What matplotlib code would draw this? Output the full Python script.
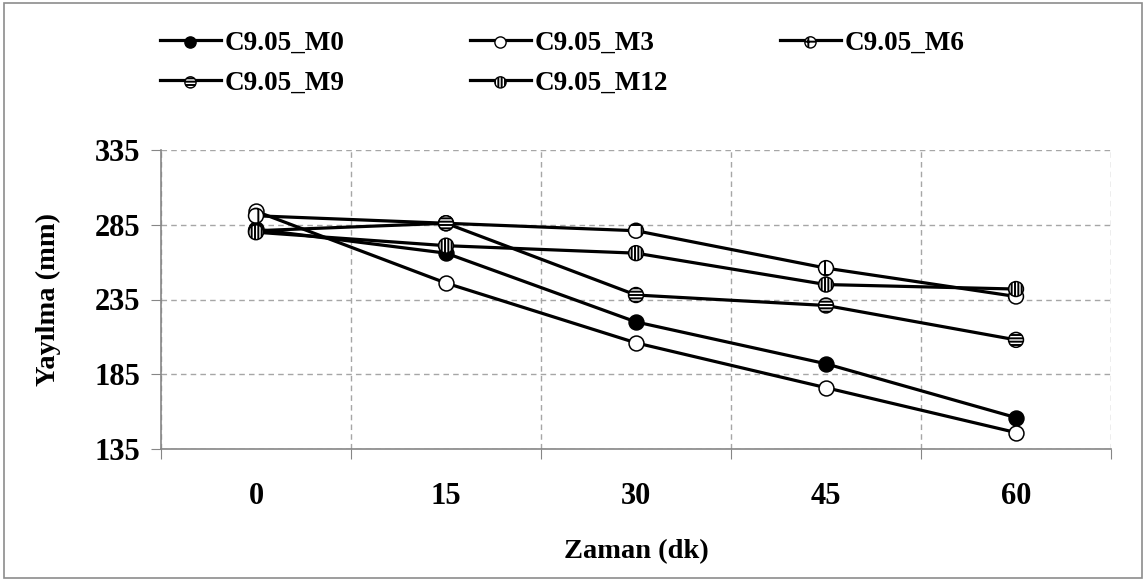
import matplotlib
matplotlib.use("Agg")
import matplotlib.pyplot as plt
from matplotlib.lines import Line2D
from matplotlib.legend_handler import HandlerTuple
from matplotlib.patches import Rectangle

# Spreading (mm) measured over time (min)
times = ["0", "15", "30", "45", "60"]
series_names = ["C9.05_M0", "C9.05_M3", "C9.05_M6", "C9.05_M9", "C9.05_M12"]
m0 = [282, 266, 220, 192, 156]
m3 = [294, 246, 206, 176, 146]
m6 = [291, 286, 281, 256, 237]
m9 = [281, 286, 238, 231, 208]
m12 = [280, 271, 266, 245, 242]
y_ticks = [135, 185, 235, 285, 335]

plt.rcParams["font.family"] = ["Liberation Serif", "DejaVu Serif"]
plt.rcParams["font.weight"] = "bold"
plt.rcParams["hatch.color"] = "#5a5a5a"
plt.rcParams["hatch.linewidth"] = 1.4

W, H = 1146, 580
fig = plt.figure(figsize=(W / 100, H / 100), dpi=100)
ax = fig.add_axes([161 / W, 1 - 449 / H, 950 / W, 299 / H])

styles = [
    dict(face="black", hatch=None),
    dict(face="white", hatch=None),
    dict(face="white", hatch="+"),
    dict(face="white", hatch="-----"),
    dict(face="white", hatch="|||||"),
]
data = [m0, m3, m6, m9, m12]
xs = list(range(len(times)))

handles = []
for i, (vals, st) in enumerate(zip(data, styles)):
    z = 3 + i
    ax.plot(xs, vals, color="black", lw=2.3, zorder=z, solid_capstyle="butt")
    ax.scatter(xs, vals, s=115, facecolor=st["face"], edgecolor="black",
               linewidths=1.1, hatch=st["hatch"], zorder=z + 0.5)
    ln = Line2D([], [], color="black", lw=2.3)
    sc = ax.scatter([], [], s=65, facecolor=st["face"], edgecolor="black",
                    linewidths=1.0, hatch=st["hatch"])
    handles.append((ln, sc))

ax.set_xlim(-0.5, 4.5)
ax.set_ylim(135, 335)
ax.set_yticks(y_ticks)
ax.set_xticks([-0.5, 0.5, 1.5, 2.5, 3.5, 4.5])
ax.set_xticklabels([])
ax.set_xticks(xs, minor=True)
ax.set_xticklabels(times, minor=True)
ax.tick_params(axis="x", which="major", direction="out", length=7, color="#868686")
ax.tick_params(axis="x", which="minor", length=0, pad=24, labelsize=22)
ax.tick_params(axis="y", direction="out", length=7, color="#868686", labelsize=22, pad=8)

ax.grid(True, which="major", color="#a6a6a6", ls=(0, (4, 3)), lw=1.0, zorder=0)
for s in ["top", "right"]:
    ax.spines[s].set_visible(False)
for s in ["left", "bottom"]:
    ax.spines[s].set_color("#868686")
    ax.spines[s].set_linewidth(1.2)

ax.set_ylabel("Yayılma (mm)", fontsize=20.5, fontweight="bold", labelpad=24)
ax.set_xlabel("Zaman (dk)", fontsize=20.5, fontweight="bold", labelpad=20)

# Legend entries laid out on a fixed grid (3 per row)
legend_pos = [(160, 43), (470, 43), (780, 43), (160, 83), (470, 83)]
for (h, name, (lx, ly)) in zip(handles, series_names, legend_pos):
    fig.legend([h], [name], loc="center left",
               bbox_to_anchor=(lx / W, 1 - ly / H), frameon=False,
               borderpad=0, borderaxespad=0,
               handler_map={tuple: HandlerTuple(ndivide=1)},
               handlelength=2.25, handletextpad=0.15,
               prop=dict(size=19.5, weight="bold"))

fig.patches.append(Rectangle((4 / W, 2 / H), 1138 / W, 575 / H,
                             transform=fig.transFigure, fill=False,
                             edgecolor="#8c8c8c", lw=1.2))

fig.savefig("out.png", dpi=100)
